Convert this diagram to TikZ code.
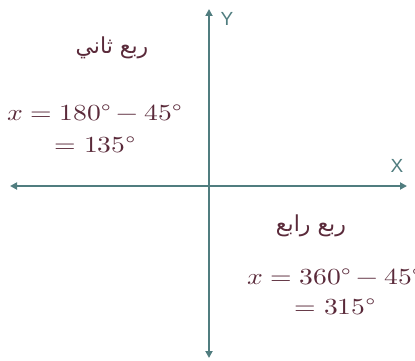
\documentclass[tikz,border=0pt]{standalone}
\usepackage{fontspec}
\usepackage{unicode-math}
\usepackage{graphicx}
\usetikzlibrary{arrows.meta}
\TeXXeTstate=1
\newfontfamily\arabicfont[Script=Arabic]{DejaVu Sans}
\newfontfamily\axisfont{Liberation Sans}
\definecolor{axiscol}{HTML}{507D7F}
\definecolor{txtcol}{HTML}{5A2A3A}
\newcommand{\dg}{\mbox{°}}
\newcommand{\wide}[1]{\scalebox{1.2}[1]{#1}}
\tikzset{
  axisline/.style={draw=axiscol, line width=1.8pt, {Triangle[length=7pt,width=7pt]}-{Triangle[length=7pt,width=7pt]}},
  axislabel/.style={text=axiscol, font=\axisfont\fontsize{19}{22}\selectfont, inner sep=0pt},
  arlabel/.style={text=txtcol, font=\arabicfont\fontsize{22}{26}\selectfont, inner sep=0pt},
  mathlabel/.style={text=txtcol, font=\fontsize{23}{27}\selectfont, inner sep=0pt, align=center}
}
\begin{document}
\begin{tikzpicture}[x=1pt,y=-1pt]
\useasboundingbox (0,0) rectangle (415,361);
\coordinate (L) at (10,186);
\coordinate (R) at (407,186);
\coordinate (T) at (209,9);
\coordinate (B) at (209,358);
\draw[axisline] (L) -- (R);
\draw[axisline] (B) -- (T);
\node[axislabel] (ylab) at (227,19) {Y};
\node[axislabel] (xlab) at (397,166) {X};
\node[arlabel] (q2) at (112,48) {\beginR ربع ثاني\endR};
\node[mathlabel, anchor=west] (m2a) at (7,113) {\wide{$x=180\dg-45\dg$}};
\node[mathlabel] (m2b) at (95,145) {\wide{$=135\dg$}};
\node[arlabel] (q4) at (311,226) {\beginR ربع رابع\endR};
\node[mathlabel, anchor=west] (m4a) at (247,277) {\wide{$x=360\dg-45\dg$}};
\node[mathlabel] (m4b) at (335,307) {\wide{$=315\dg$}};
\end{tikzpicture}
\end{document}
